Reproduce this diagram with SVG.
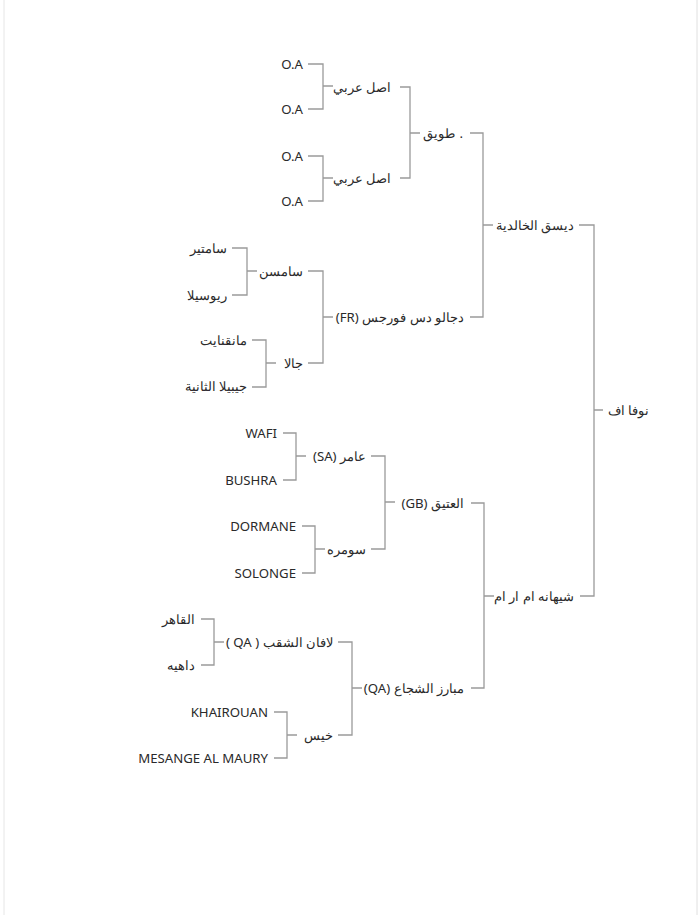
<svg xmlns="http://www.w3.org/2000/svg" width="700" height="915" viewBox="0 0 700 915">
<style>
text{font-family:"Noto Sans","Liberation Sans",sans-serif;font-size:13.2px;fill:#2a2a2a;dominant-baseline:central}
.ar{direction:rtl;unicode-bidi:embed;text-anchor:start}
.la{text-anchor:end}
#connectors path{fill:none;stroke:#9a9a9a;stroke-width:1.3}
</style>
<rect width="700" height="915" fill="#fff"/>
<line x1="4" y1="0" x2="4" y2="915" stroke="#e6e6e6"/>
<line x1="697" y1="0" x2="697" y2="915" stroke="#e0e0e0"/>
<g id="connectors">
<path d="M308 64H323V109H308M323 86H333"/>
<path d="M308 156H323V201H308M323 178H333"/>
<path d="M400 87H410V178H400M410 133H420"/>
<path d="M470 133H483V317H470M483 225H493"/>
<path d="M579 225H594V596H580M594 410H603"/>
<path d="M232 248H247V295H232M247 271H257"/>
<path d="M252 340H266V387H252M266 363H276"/>
<path d="M308 271H323V363H308M323 317H333"/>
<path d="M283 433H296V480H283M296 456H306"/>
<path d="M302 526H315V573H302M315 549H325"/>
<path d="M371 456H385V549H371M385 502H395"/>
<path d="M471 503H484V688H471M484 596H494"/>
<path d="M201 619H214V665H201M214 642H224"/>
<path d="M274 712H287V758H274M287 735H297"/>
<path d="M338 642H352V735H338M352 688H362"/>
</g>
<g id="n-root"><text class="ar" x="649" y="410">نوفا اف</text></g>
<g id="n-sire"><text class="ar" x="574" y="225">ديسق الخالدية</text></g>
<g id="n-dam"><text class="ar" x="574" y="596">شيهانه ام ار ام</text></g>
<g id="n-tuwaiq"><text class="la" x="463" y="133">.</text><text class="ar" x="455" y="133">طويق</text></g>
<g id="n-djalo"><text class="ar" x="464" y="317">دجالو دس فورجس (FR)</text></g>
<g id="n-ateeq"><text class="ar" x="464" y="503">العتيق (GB)</text></g>
<g id="n-mubariz"><text class="ar" x="464" y="688">مبارز الشجاع (QA)</text></g>
<g id="n-asl1"><text class="ar" x="391" y="87">اصل عربي</text></g>
<g id="n-asl2"><text class="ar" x="391" y="178">اصل عربي</text></g>
<g id="n-samsn"><text class="ar" x="303" y="271">سامسن</text></g>
<g id="n-gala"><text class="ar" x="303" y="363">جالا</text></g>
<g id="n-amer"><text class="ar" x="366" y="456">عامر (SA)</text></g>
<g id="n-sumra"><text class="ar" x="366" y="549">سومره</text></g>
<g id="n-lafan"><text class="ar" x="333" y="642">لافان الشقب ( QA )</text></g>
<g id="n-khais"><text class="ar" x="333" y="735">خيس</text></g>
<g id="n-oa1"><text class="la" x="303" y="64">O.A</text></g>
<g id="n-oa2"><text class="la" x="303" y="109">O.A</text></g>
<g id="n-oa3"><text class="la" x="303" y="156">O.A</text></g>
<g id="n-oa4"><text class="la" x="303" y="201">O.A</text></g>
<g id="n-samteer"><text class="ar" x="227" y="248">سامتير</text></g>
<g id="n-riusila"><text class="ar" x="227" y="295">ريوسيلا</text></g>
<g id="n-manqa"><text class="ar" x="247" y="340">مانقنايت</text></g>
<g id="n-jibila"><text class="ar" x="247" y="386">جيبيلا الثانية</text></g>
<g id="n-wafi"><text class="la" x="277" y="433">WAFI</text></g>
<g id="n-bushra"><text class="la" x="277" y="480">BUSHRA</text></g>
<g id="n-dormane"><text class="la" x="296" y="526">DORMANE</text></g>
<g id="n-solonge"><text class="la" x="296" y="573">SOLONGE</text></g>
<g id="n-qahir"><text class="ar" x="195" y="619">القاهر</text></g>
<g id="n-dahia"><text class="ar" x="195" y="665">داهيه</text></g>
<g id="n-khairouan"><text class="la" x="268" y="712">KHAIROUAN</text></g>
<g id="n-mesange"><text class="la" x="268" y="758">MESANGE AL MAURY</text></g>
</svg>
